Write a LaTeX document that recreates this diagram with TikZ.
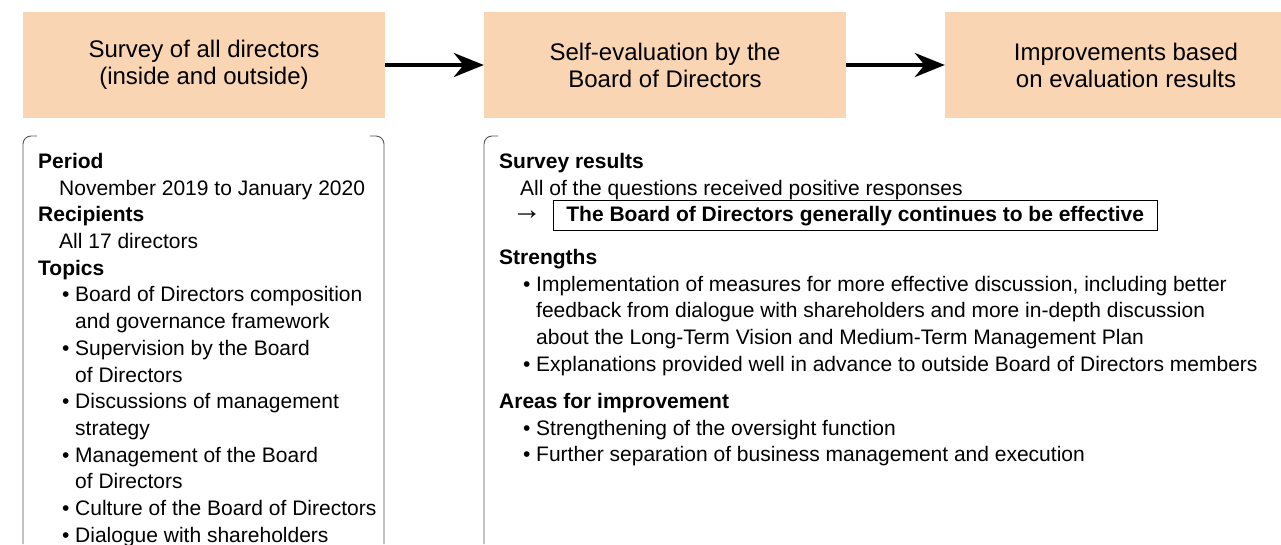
\documentclass[tikz,border=0pt]{standalone}
\usepackage{fontspec}
\setmainfont{Liberation Sans}
\usetikzlibrary{positioning, arrows.meta}

\definecolor{peach}{HTML}{F9D5B3}
\definecolor{framegray}{HTML}{555555}

\tikzset{
	stage/.style={fill=peach, minimum width=362pt, minimum height=106pt, inner sep=0pt, align=center,
		font=\fontsize{24}{27}\selectfont},
	flow/.style={line width=4pt, -{Stealth[length=30pt, width=24pt]}},
	bracket/.style={draw=framegray, line width=0.9pt, rounded corners=8pt},
	block/.style={anchor=north west, inner sep=0pt, align=left,
		font=\fontsize{21}{26.7}\selectfont},
	keybox/.style={draw, line width=0.8pt, anchor=base west, inner xsep=13pt, inner ysep=5pt,
		font=\fontsize{21}{26.7}\selectfont\bfseries}
}
\newcommand{\bul}{\makebox[13pt][l]{\textbullet}}
\newcommand{\ind}{\hspace*{13pt}}

\begin{document}
\begin{tikzpicture}[x=1pt, y=-1pt]
	\useasboundingbox (0,0) rectangle (1281,544);
	% process stages
	\node [stage] (S1) at (204,65) {Survey of all directors\\(inside and outside)};
	\node [stage] (S2) at (665,65) {Self-evaluation by the\\Board of Directors};
	\node [stage] (S3) at (1126,65) {Improvements based\\on evaluation results};
	\draw [flow] (S1) -- (S2);
	\draw [flow] (S2) -- (S3);

	% brackets
	\draw [bracket] (37,136) -- (23,136) -- (23,544);
	\draw [bracket] (370,136) -- (384,136) -- (384,544);
	\draw [bracket] (498,136) -- (484,136) -- (484,544);

	% survey details
	\node [block] (L1) at (38,153)
		{\textbf{Period}\\
		\hspace*{21pt}November 2019 to January 2020\\
		\textbf{Recipients}\\
		\hspace*{21pt}All 17 directors\\
		\textbf{Topics}\\
		\hspace*{24pt}\bul Board of Directors composition\\
		\hspace*{24pt}\ind and governance framework\\
		\hspace*{24pt}\bul Supervision by the Board\\
		\hspace*{24pt}\ind of Directors\\
		\hspace*{24pt}\bul Discussions of management\\
		\hspace*{24pt}\ind strategy\\
		\hspace*{24pt}\bul Management of the Board\\
		\hspace*{24pt}\ind of Directors\\
		\hspace*{24pt}\bul Culture of the Board of Directors\\
		\hspace*{24pt}\bul Dialogue with shareholders};

	% self-evaluation details
	\node [block] (R1) at (499,153)
		{\textbf{Survey results}\\
		\hspace*{21pt}All of the questions received positive responses};
	\node [keybox] (R3) at (553,221) {The Board of Directors generally continues to be effective};
	\node [anchor=east, inner sep=0pt, font=\fontsize{30}{30}\selectfont] (R2) at ([xshift=-11pt]R3.west) {\textrightarrow};
	\node [block] (R4) at (499,249)
		{\textbf{Strengths}\\
		\hspace*{24pt}\bul Implementation of measures for more effective discussion, including better\\
		\hspace*{24pt}\ind feedback from dialogue with shareholders and more in-depth discussion\\
		\hspace*{24pt}\ind about the Long-Term Vision and Medium-Term Management Plan\\
		\hspace*{24pt}\bul Explanations provided well in advance to outside Board of Directors members};
	\node [block] (R5) at (499,393)
		{\textbf{Areas for improvement}\\
		\hspace*{24pt}\bul Strengthening of the oversight function\\
		\hspace*{24pt}\bul Further separation of business management and execution};
\end{tikzpicture}
\end{document}
